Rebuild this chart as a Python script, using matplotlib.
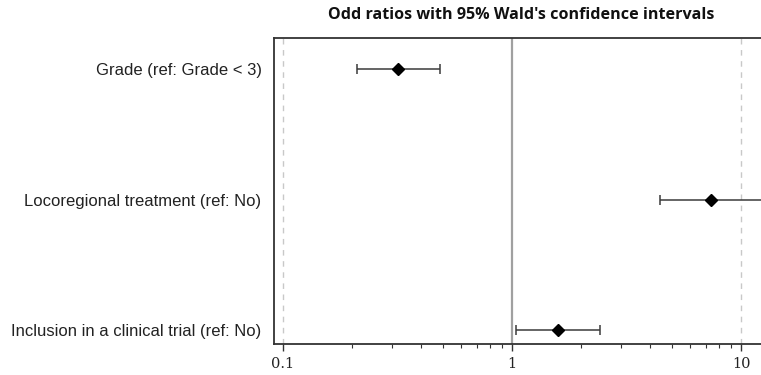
import matplotlib.pyplot as plt
from matplotlib.ticker import LogLocator, FixedLocator, NullFormatter

labels = ["Grade (ref: Grade < 3)",
          "Locoregional treatment (ref: No)",
          "Inclusion in a clinical trial (ref: No)"]
odds = [0.318, 7.38, 1.59]
ci_low = [0.21, 4.43, 1.04]
ci_high = [0.485, 16.0, 2.42]

W, H = 761, 375
fig = plt.figure(figsize=(W / 100, H / 100), dpi=100)
ax = fig.add_axes([274 / W, 1 - 344 / H, (768 - 274) / W, (344 - 38) / H])

ys = list(range(len(labels)))
xerr = [[o - l for o, l in zip(odds, ci_low)], [h - o for o, h in zip(odds, ci_high)]]

ax.axvline(1, color="#a0a0a0", lw=1.6, zorder=1)
for v in (0.1, 10):
    ax.axvline(v, color="#c8c8c8", lw=1.0, ls=(0, (4, 4)), zorder=1)

ax.errorbar(odds, ys, xerr=xerr, fmt="D", color="black", ecolor="#3a3a3a",
            elinewidth=1.1, capsize=3.8, capthick=1.1, markersize=6, zorder=3)

ax.set_xscale("log")
ax.set_xlim(0.0913, 13.1)
ax.set_ylim(2.107, -0.238)

ax.xaxis.set_major_locator(FixedLocator([0.1, 1, 10]))
ax.set_xticklabels(["0.1", "1", "10"], family="DejaVu Serif", fontsize=10.5, color="#222222")
ax.xaxis.set_minor_locator(LogLocator(base=10, subs=range(2, 10)))
ax.xaxis.set_minor_formatter(NullFormatter())
ax.tick_params(axis="x", which="major", length=5, width=1, color="#333333", pad=4)
ax.tick_params(axis="x", which="minor", length=3, width=0.8, color="#333333")

ax.set_yticks(ys)
ax.set_yticklabels(labels, family="Liberation Sans", fontsize=12, color="#222222")
ax.tick_params(axis="y", length=0, pad=9)

for s in ("left", "bottom", "top"):
    ax.spines[s].set_color("#333333")
    ax.spines[s].set_linewidth(1.3)
ax.spines["right"].set_visible(False)

fig.text(521 / W, 1 - 15 / H, "Odd ratios with 95% Wald's confidence intervals",
         ha="center", va="center", family="Open Sans", fontweight="bold",
         fontsize=11.6, color="#111111")

fig.savefig("out.png", dpi=100)
